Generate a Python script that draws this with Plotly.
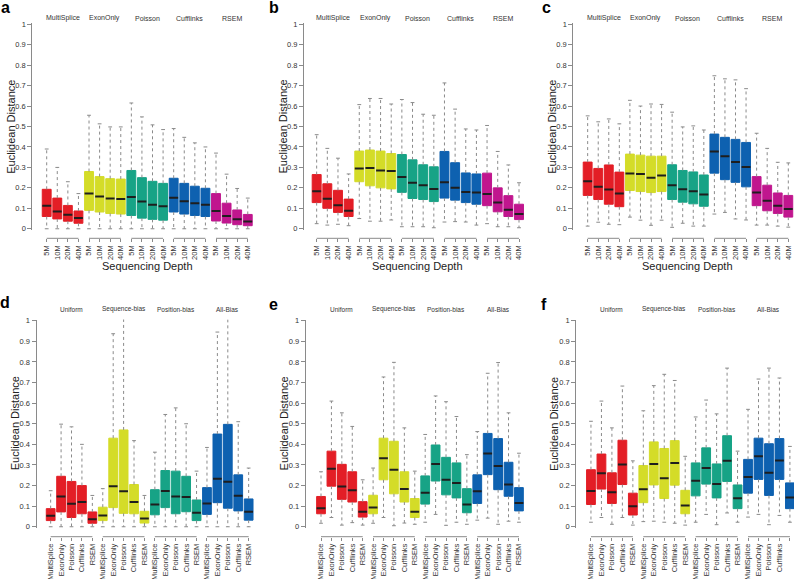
import plotly.graph_objects as go

# ---------------- data ----------------
depths = ["5M", "10M", "20M", "40M"]
methods = ["MultiSplice", "ExonOnly", "Poisson", "Cufflinks", "RSEM"]
biases = ["Uniform", "Sequence-bias", "Position-bias", "All-Bias"]

# panel a (groups = methods, boxes = depths 5M,10M,20M,40M)
a_upper = [0.39, 0.30, 0.23, 0.172, 0.555, 0.513, 0.498, 0.498, 0.615, 0.547, 0.508, 0.485,
           0.49, 0.447, 0.42, 0.40, 0.37, 0.267, 0.197, 0.15]
a_q3 = [0.193, 0.15, 0.114, 0.087, 0.28, 0.255, 0.245, 0.243, 0.285, 0.25, 0.232, 0.222,
        0.247, 0.222, 0.208, 0.198, 0.172, 0.125, 0.092, 0.07]
a_median = [0.113, 0.085, 0.068, 0.053, 0.172, 0.158, 0.148, 0.145, 0.155, 0.133, 0.118, 0.11,
            0.152, 0.135, 0.125, 0.118, 0.087, 0.063, 0.047, 0.036]
a_q1 = [0.06, 0.048, 0.037, 0.027, 0.09, 0.082, 0.075, 0.072, 0.065, 0.052, 0.046, 0.042,
        0.082, 0.072, 0.065, 0.06, 0.038, 0.028, 0.02, 0.015]
a_lower = [0.0] * 20

# panel b
b_upper = [0.46, 0.393, 0.345, 0.268, 0.607, 0.637, 0.637, 0.61, 0.632, 0.617, 0.56, 0.555,
           0.713, 0.585, 0.488, 0.483, 0.505, 0.378, 0.312, 0.225]
b_q3 = [0.265, 0.22, 0.188, 0.145, 0.38, 0.385, 0.38, 0.368, 0.363, 0.337, 0.313, 0.303,
        0.378, 0.323, 0.273, 0.268, 0.272, 0.2, 0.162, 0.12]
b_median = [0.183, 0.147, 0.115, 0.088, 0.295, 0.297, 0.285, 0.283, 0.253, 0.225, 0.213, 0.195,
            0.228, 0.2, 0.18, 0.177, 0.17, 0.128, 0.093, 0.072]
b_q1 = [0.128, 0.1, 0.08, 0.06, 0.23, 0.21, 0.2, 0.195, 0.178, 0.148, 0.143, 0.133,
        0.15, 0.14, 0.128, 0.12, 0.113, 0.083, 0.06, 0.045]
b_lower = [0.025, 0.018, 0.022, 0.015, 0.05, 0.037, 0.037, 0.043, 0.01, 0.01, 0.01, 0.005,
           0.033, 0.035, 0.033, 0.018, 0.025, 0.01, 0.01, 0.005]

# panel c
c_upper = [0.552, 0.523, 0.537, 0.513, 0.628, 0.60, 0.61, 0.608, 0.57, 0.498, 0.503, 0.483,
           0.748, 0.733, 0.728, 0.685, 0.467, 0.393, 0.325, 0.322]
c_q3 = [0.326, 0.295, 0.312, 0.277, 0.365, 0.36, 0.355, 0.355, 0.313, 0.285, 0.278, 0.263,
        0.463, 0.447, 0.437, 0.422, 0.255, 0.213, 0.175, 0.163]
c_median = [0.232, 0.205, 0.192, 0.172, 0.27, 0.268, 0.25, 0.26, 0.213, 0.193, 0.183, 0.167,
            0.378, 0.355, 0.327, 0.302, 0.177, 0.137, 0.113, 0.097]
c_q1 = [0.163, 0.143, 0.12, 0.108, 0.187, 0.182, 0.177, 0.182, 0.143, 0.13, 0.122, 0.11,
        0.272, 0.24, 0.227, 0.205, 0.113, 0.088, 0.075, 0.057]
c_lower = [0.013, 0.032, 0.022, 0.02, 0.057, 0.042, 0.017, 0.042, 0.007, 0.027, 0.013, 0.013,
           0.072, 0.08, 0.048, 0.043, 0.018, 0.018, 0.013, 0.008]

# panel d (groups = biases, boxes = methods)
d_upper = [0.175, 0.498, 0.485, 0.40, 0.152, 0.185, 0.937, 1.05, 0.418, 0.152,
           0.362, 0.545, 0.577, 0.50, 0.27, 0.385, 0.945, 1.05, 0.51, 0.285]
d_q3 = [0.088, 0.245, 0.22, 0.20, 0.072, 0.095, 0.43, 0.47, 0.205, 0.075,
        0.18, 0.273, 0.27, 0.245, 0.13, 0.19, 0.45, 0.497, 0.252, 0.135]
d_median = [0.053, 0.147, 0.112, 0.12, 0.037, 0.055, 0.197, 0.172, 0.12, 0.04,
            0.108, 0.173, 0.147, 0.145, 0.068, 0.113, 0.233, 0.218, 0.15, 0.073]
d_q1 = [0.03, 0.072, 0.045, 0.063, 0.017, 0.03, 0.093, 0.065, 0.063, 0.018,
        0.058, 0.093, 0.063, 0.073, 0.03, 0.06, 0.117, 0.09, 0.077, 0.032]
d_lower = [0.0] * 20

# panel e
e_upper = [0.267, 0.61, 0.553, 0.487, 0.228, 0.285, 0.727, 0.798, 0.48, 0.27,
           0.448, 0.635, 0.607, 0.535, 0.35, 0.462, 0.745, 0.797, 0.553, 0.357]
e_q3 = [0.147, 0.367, 0.303, 0.267, 0.122, 0.153, 0.43, 0.415, 0.267, 0.137,
        0.247, 0.397, 0.337, 0.31, 0.185, 0.252, 0.453, 0.428, 0.313, 0.19]
e_median = [0.09, 0.282, 0.195, 0.177, 0.073, 0.093, 0.333, 0.277, 0.183, 0.073,
            0.165, 0.305, 0.228, 0.212, 0.108, 0.172, 0.355, 0.295, 0.205, 0.115]
e_q1 = [0.063, 0.197, 0.133, 0.12, 0.047, 0.063, 0.228, 0.16, 0.12, 0.045,
        0.11, 0.222, 0.155, 0.14, 0.068, 0.113, 0.253, 0.18, 0.148, 0.077]
e_lower = [0.017, 0.045, 0.008, 0.02, 0.008, 0.017, 0.045, 0.005, 0.018, 0.012,
           0.022, 0.06, 0.007, 0.022, 0.012, 0.032, 0.042, 0.012, 0.027, 0.022]

# panel f
f_upper = [0.512, 0.61, 0.48, 0.683, 0.32, 0.563, 0.685, 0.74, 0.71, 0.342,
           0.533, 0.615, 0.548, 0.77, 0.367, 0.57, 0.717, 0.77, 0.722, 0.39]
f_q3 = [0.277, 0.353, 0.262, 0.42, 0.163, 0.297, 0.412, 0.38, 0.418, 0.177,
        0.31, 0.383, 0.305, 0.442, 0.203, 0.327, 0.43, 0.403, 0.428, 0.213]
f_median = [0.173, 0.26, 0.168, 0.302, 0.10, 0.182, 0.305, 0.235, 0.31, 0.103,
            0.223, 0.285, 0.208, 0.32, 0.138, 0.242, 0.342, 0.262, 0.322, 0.142]
f_q1 = [0.108, 0.183, 0.113, 0.205, 0.057, 0.117, 0.203, 0.137, 0.202, 0.063,
        0.15, 0.207, 0.14, 0.22, 0.088, 0.163, 0.23, 0.152, 0.23, 0.088]
f_lower = [0.022, 0.045, 0.012, 0.045, 0.008, 0.025, 0.027, 0.022, 0.017, 0.008,
           0.022, 0.06, 0.01, 0.067, 0.022, 0.047, 0.06, 0.01, 0.055, 0.022]

y_ticks = [0, 0.1, 0.2, 0.3, 0.4, 0.5, 0.6, 0.7, 0.8, 0.9, 1]
y_ticktext = ["0", "0.1", "0.2", "0.3", "0.4", "0.5", "0.6", "0.7", "0.8", "0.9", "1"]

top_colors = ["#E31E26", "#D4DC28", "#17A386", "#0E61B0", "#C0168E"]
bottom_colors = ["#E31E26", "#D4DC28", "#17A386", "#0E61B0"]

# ---------------- layout geometry ----------------
W, H = 794, 579
FONT = "Liberation Sans, Arial, Helvetica, sans-serif"
BOX_W = 0.84
CAP_W = 0.36

panels = [
    dict(letter="a", stats=(a_lower, a_q1, a_median, a_q3, a_upper), groups=methods, sub=depths,
         colors=top_colors, xdom=(32.3, 254.1), xrange=(-0.36, 20.6), top=True, letter_xy=(5, 8)),
    dict(letter="b", stats=(b_lower, b_q1, b_median, b_q3, b_upper), groups=methods, sub=depths,
         colors=top_colors, xdom=(304.0, 525.4), xrange=(-0.19, 20.6), top=True, letter_xy=(274, 8)),
    dict(letter="c", stats=(c_lower, c_q1, c_median, c_q3, c_upper), groups=methods, sub=depths,
         colors=top_colors, xdom=(573.3, 794.0), xrange=(-0.36, 20.54), top=True, letter_xy=(546, 8)),
    dict(letter="d", stats=(d_lower, d_q1, d_median, d_q3, d_upper), groups=biases, sub=methods,
         colors=bottom_colors, xdom=(36.5, 254.9), xrange=(-0.36, 20.6), top=False, letter_xy=(5, 302)),
    dict(letter="e", stats=(e_lower, e_q1, e_median, e_q3, e_upper), groups=biases, sub=methods,
         colors=bottom_colors, xdom=(305.7, 525.2), xrange=(-0.47, 20.6), top=False, letter_xy=(273, 304)),
    dict(letter="f", stats=(f_lower, f_q1, f_median, f_q3, f_upper), groups=biases, sub=methods,
         colors=bottom_colors, xdom=(576.2, 794.0), xrange=(-0.41, 20.39), top=False, letter_xy=(544, 304)),
]

TOP_Y = (23.0, 230.0)       # pixel y of value 1 and value 0
BOT_Y = (319.5, 528.0)
TOP_BRACKET = 238.3
BOT_BRACKET = 536.7


def py(p):
    return 1 - p / H


def px(p):
    return p / W


fig = go.Figure()
shapes = []
annotations = []
layout = {}

for i, P in enumerate(panels, start=1):
    xa = "x" if i == 1 else f"x{i}"
    ya = "y" if i == 1 else f"y{i}"
    xkey = "xaxis" if i == 1 else f"xaxis{i}"
    ykey = "yaxis" if i == 1 else f"yaxis{i}"
    lower, q1, med, q3, upper = P["stats"]
    n_sub = len(P["sub"])
    n_grp = len(P["groups"])
    positions = list(range(1, n_sub * n_grp + 1))
    ticktext = P["sub"] * n_grp

    # boxes per colour group
    for g in range(n_grp):
        sl = slice(g * n_sub, (g + 1) * n_sub)
        col = P["colors"][g]
        fig.add_trace(go.Box(
            x=positions[sl], q1=q1[sl], median=med[sl], q3=q3[sl],
            lowerfence=q1[sl], upperfence=q3[sl],
            width=BOX_W, fillcolor=col, line=dict(color=col, width=1),
            whiskerwidth=0, boxpoints=False, xaxis=xa, yaxis=ya, hoverinfo="skip",
        ))

    # whiskers (dotted), caps and medians
    wx, wy = [], []
    cx, cy = [], []
    mx, my = [], []
    for k, p in enumerate(positions):
        wx += [p, p, None, p, p, None]
        wy += [q3[k], upper[k], None, q1[k], lower[k], None]
        cx += [p - CAP_W / 2, p + CAP_W / 2, None, p - CAP_W / 2, p + CAP_W / 2, None]
        cy += [upper[k], upper[k], None, lower[k], lower[k], None]
        mx += [p - BOX_W / 2, p + BOX_W / 2, None]
        my += [med[k], med[k], None]
    fig.add_trace(go.Scatter(x=wx, y=wy, mode="lines", xaxis=xa, yaxis=ya, hoverinfo="skip",
                             line=dict(color="#8a8a8a", width=1, dash="dot")))
    fig.add_trace(go.Scatter(x=cx, y=cy, mode="lines", xaxis=xa, yaxis=ya, hoverinfo="skip",
                             line=dict(color="#8a8a8a", width=1)))
    fig.add_trace(go.Scatter(x=mx, y=my, mode="lines", xaxis=xa, yaxis=ya, hoverinfo="skip",
                             line=dict(color="#1e1e1e", width=2)))

    ypix = TOP_Y if P["top"] else BOT_Y
    bracket = TOP_BRACKET if P["top"] else BOT_BRACKET

    layout[xkey] = dict(
        domain=[px(P["xdom"][0]), px(P["xdom"][1])], range=list(P["xrange"]),
        anchor="free", position=py(bracket), showline=False, showgrid=False, zeroline=False,
        ticks="outside", ticklen=3, tickwidth=1, tickcolor="#8a8a8a",
        tickvals=positions, ticktext=ticktext, tickangle=-90,
        tickfont=dict(family=FONT, size=7.5, color="#333333"),
        automargin=False,
    )
    layout[ykey] = dict(
        domain=[py(ypix[1]), py(ypix[0])], range=[-0.006, 1.006], anchor=xa,
        showline=True, linecolor="#8a8a8a", linewidth=1, showgrid=False, zeroline=False,
        ticks="outside", ticklen=4, tickwidth=1, tickcolor="#8a8a8a",
        tickvals=y_ticks, ticktext=y_ticktext,
        tickfont=dict(family=FONT, size=7.5, color="#333333"), automargin=False,
    )

    # group brackets under the boxes and group headers
    for g in range(n_grp):
        shapes.append(dict(type="line", xref=xa, yref="paper",
                           x0=positions[g * n_sub], x1=positions[(g + 1) * n_sub - 1],
                           y0=py(bracket), y1=py(bracket),
                           line=dict(color="#8a8a8a", width=1)))
        annotations.append(dict(
            xref=xa, yref="paper", x=(positions[g * n_sub] + positions[(g + 1) * n_sub - 1]) / 2,
            y=py(18 if P["top"] else 309), text=P["groups"][g], showarrow=False,
            font=dict(family=FONT, size=7 if P["top"] else 6.5, color="#333333"),
            xanchor="center", yanchor="middle"))

    # y title
    annotations.append(dict(
        xref="paper", yref="paper", x=px(P["xdom"][0] - 22), y=py((ypix[0] + ypix[1]) / 2),
        text="Euclidean Distance", textangle=-90, showarrow=False,
        font=dict(family=FONT, size=11, color="#222222"), xanchor="center", yanchor="middle"))
    # x title (top row)
    if P["top"]:
        annotations.append(dict(
            xref=xa, yref="paper", x=(positions[0] + positions[-1]) / 2, y=py(266),
            text="Sequencing Depth", showarrow=False,
            font=dict(family=FONT, size=11, color="#222222"), xanchor="center", yanchor="middle"))
    # panel letter
    annotations.append(dict(
        xref="paper", yref="paper", x=px(P["letter_xy"][0]), y=py(P["letter_xy"][1]),
        text=f"<b>{P['letter']}</b>", showarrow=False,
        font=dict(family=FONT, size=16, color="#000000"), xanchor="center", yanchor="middle"))

fig.update_layout(
    width=W, height=H, margin=dict(l=0, r=0, t=0, b=0),
    paper_bgcolor="white", plot_bgcolor="white", showlegend=False,
    shapes=shapes, annotations=annotations, **layout,
)

fig.write_html("out.html", config={"displayModeBar": False},
               post_script="document.body.style.margin='0';document.body.style.overflow='hidden';")
